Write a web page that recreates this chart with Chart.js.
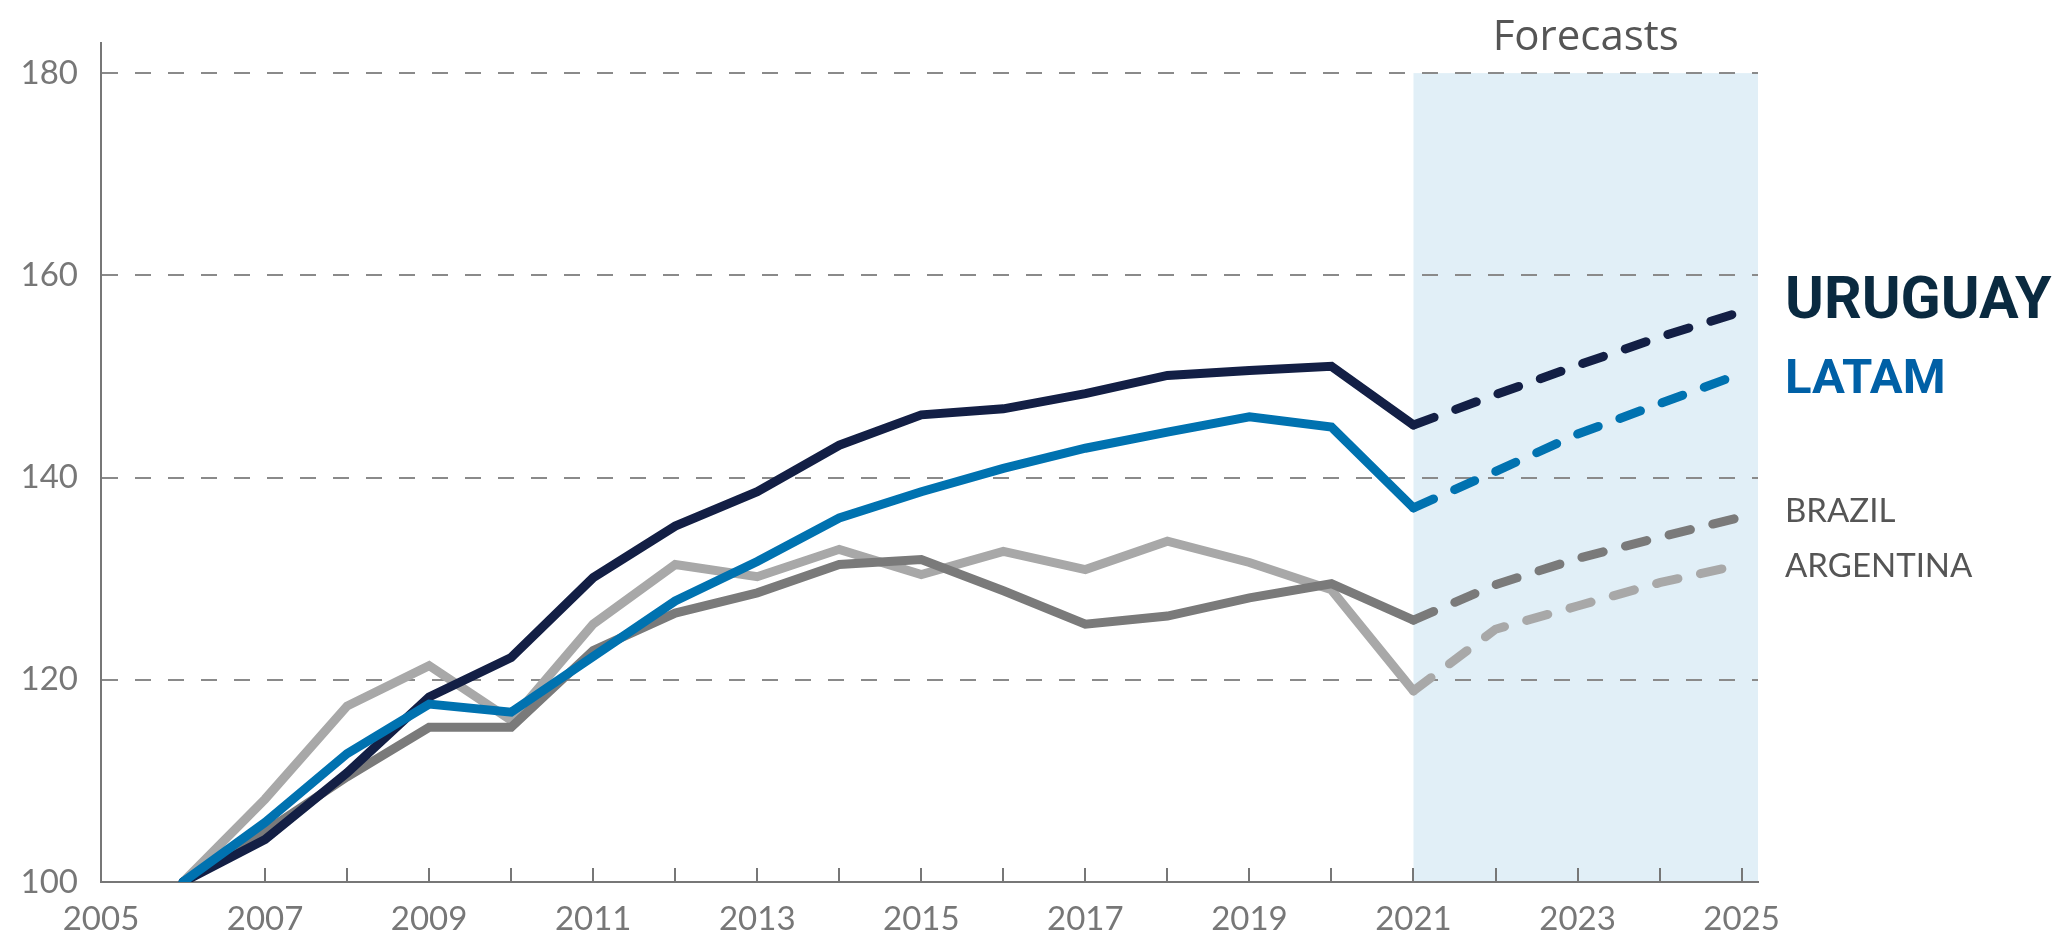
<!DOCTYPE html>
<html>
<head>
<meta charset="utf-8">
<title>Índice de PIB per cápita</title>
<script src="https://cdn.jsdelivr.net/npm/chart.js@4.4.1/dist/chart.umd.min.js"></script>
<style>
  html, body { margin: 0; padding: 0; background: #fff; }
  #chart { display: block; }
</style>
</head>
<body>
<canvas id="chart" width="2063" height="943"></canvas>
<script>
// index, 2006 = 100
const years = [2006, 2007, 2008, 2009, 2010, 2011, 2012, 2013, 2014, 2015,
  2016, 2017, 2018, 2019, 2020, 2021, 2022, 2023, 2024, 2025];
const uruguay = [100, 104.2, 110.8, 118.3, 122.2, 130.1, 135.2, 138.6, 143.2, 146.2,
  146.8, 148.3, 150.1, 150.6, 151.0, 145.2, 148.2, 151.1, 153.9, 156.4];
const latam = [100, 105.9, 112.7, 117.6, 116.8, 122.3, 127.8, 131.7, 136.0, 138.6,
  140.9, 142.9, 144.5, 146.0, 145.0, 137.0, 140.6, 144.3, 147.3, 150.3];
const brazil = [100, 105.0, 110.4, 115.3, 115.3, 122.9, 126.6, 128.6, 131.4, 131.9,
  128.8, 125.5, 126.3, 128.1, 129.5, 125.9, 129.4, 132.0, 134.1, 136.1];
const argentina = [100, 108.2, 117.4, 121.4, 116.0, 125.5, 131.4, 130.2, 132.9, 130.4,
  132.7, 130.9, 133.7, 131.6, 128.9, 118.9, 125.0, 127.3, 129.6, 131.4];

const forecastFrom = 2021;
const yTicks = [100, 120, 140, 160, 180];
const xLabels = [2005, 2007, 2009, 2011, 2013, 2015, 2017, 2019, 2021, 2023, 2025];
const tickYears = [2007, 2008, 2009, 2010, 2011, 2012, 2013, 2014, 2015, 2016,
  2017, 2018, 2019, 2020, 2021, 2022, 2023, 2024, 2025];

const seriesNames = ["LATAM", "URUGUAY", "BRAZIL", "ARGENTINA"];
const seriesValues = [latam, uruguay, brazil, argentina];
const lineColors = ["#0072b0", "#131f45", "#7a7a7a", "#a8a8a8"];
const nameColors = ["#0060a6", "#0a2a40", "#555555", "#555555"];
const nameFonts = ["bold 49px Roboto", "bold 59px Roboto", "33px Lato", "33px Lato"];
const nameSizes = [49, 59, 33, 33];
const nameNudge = [2, -15, -7, 1];

const AXIS = "#777777";

const toPoints = (vals) => years.map((yr, i) => ({ x: yr, y: vals[i] }));

const datasets = seriesNames.map((name, i) => ({
  label: name,
  data: toPoints(seriesValues[i]),
  borderColor: lineColors[i],
  borderWidth: 9,
  borderCapStyle: "round",
  borderJoinStyle: "miter",
  pointRadius: 0,
  tension: 0,
  segment: {
    borderDash: (ctx) => (ctx.p0.parsed.x >= forecastFrom ? [22, 23] : undefined),
  },
}));

// light blue band behind the forecast years, with its heading
const forecastBand = {
  id: "forecastBand",
  beforeDraw(chart) {
    const { ctx, chartArea, scales } = chart;
    const x0 = scales.x.getPixelForValue(forecastFrom);
    const yTop = scales.y.getPixelForValue(180);
    const yBot = scales.y.getPixelForValue(100);
    ctx.save();
    ctx.fillStyle = "#e1eff7";
    ctx.fillRect(x0, yTop, chartArea.right - x0, yBot - yTop);
    ctx.fillStyle = "#555555";
    ctx.font = "42px 'Open Sans'";
    ctx.textAlign = "center";
    ctx.textBaseline = "alphabetic";
    ctx.fillText("Forecasts", (x0 + chartArea.right) / 2, yTop - 23);
    ctx.restore();
  },
};

// short year marks standing up from the x axis
const yearTicks = {
  id: "yearTicks",
  beforeDatasetsDraw(chart) {
    const { ctx, chartArea, scales } = chart;
    ctx.save();
    ctx.strokeStyle = AXIS;
    ctx.lineWidth = 2;
    ctx.beginPath();
    tickYears.forEach((yr) => {
      const x = Math.round(scales.x.getPixelForValue(yr));
      ctx.moveTo(x, chartArea.bottom);
      ctx.lineTo(x, chartArea.bottom - 14);
    });
    ctx.stroke();
    ctx.restore();
  },
};

// country names to the right of each line end
const endLabels = {
  id: "endLabels",
  afterDatasetsDraw(chart) {
    const { ctx, chartArea, scales } = chart;
    ctx.save();
    ctx.textAlign = "left";
    ctx.textBaseline = "alphabetic";
    seriesNames.forEach((name, i) => {
      const vals = seriesValues[i];
      const y = scales.y.getPixelForValue(vals[vals.length - 1]);
      ctx.font = nameFonts[i];
      ctx.fillStyle = nameColors[i];
      ctx.fillText(name, chartArea.right + 27, y + nameSizes[i] * 0.711 / 2 + nameNudge[i]);
    });
    ctx.restore();
  },
};

const tickFont = { family: "Lato", size: 33, weight: "400" };

new Chart(document.getElementById("chart"), {
  type: "line",
  data: { datasets },
  options: {
    responsive: false,
    animation: false,
    layout: { padding: { top: 40, right: 305, left: 0, bottom: 0 } },
    plugins: {
      legend: { display: false },
      tooltip: { enabled: false },
    },
    scales: {
      x: {
        type: "linear",
        min: 2005,
        max: 2025.2,
        afterBuildTicks: (scale) => {
          scale.ticks = xLabels.map((v) => ({ value: v }));
        },
        afterFit: (scale) => {
          scale.height = 61;
        },
        grid: { display: false, drawTicks: false },
        border: { display: true, color: AXIS, width: 2 },
        ticks: {
          color: AXIS,
          font: tickFont,
          padding: 18,
          maxRotation: 0,
          autoSkip: false,
          callback: (v) => String(v),
        },
      },
      y: {
        type: "linear",
        min: 100,
        max: 183,
        afterBuildTicks: (scale) => {
          scale.ticks = yTicks.map((v) => ({ value: v }));
        },
        afterFit: (scale) => {
          scale.width = 101;
        },
        grid: {
          drawTicks: false,
          lineWidth: 2,
          color: (ctx) => (ctx.tick && ctx.tick.value === 100 ? "rgba(0,0,0,0)" : "#8a8a8a"),
        },
        border: { display: true, color: AXIS, width: 2, dash: [16, 17] },
        ticks: {
          color: AXIS,
          font: tickFont,
          padding: 23,
          callback: (v) => String(v),
        },
      },
    },
  },
  plugins: [forecastBand, yearTicks, endLabels],
});
</script>
</body>
</html>
